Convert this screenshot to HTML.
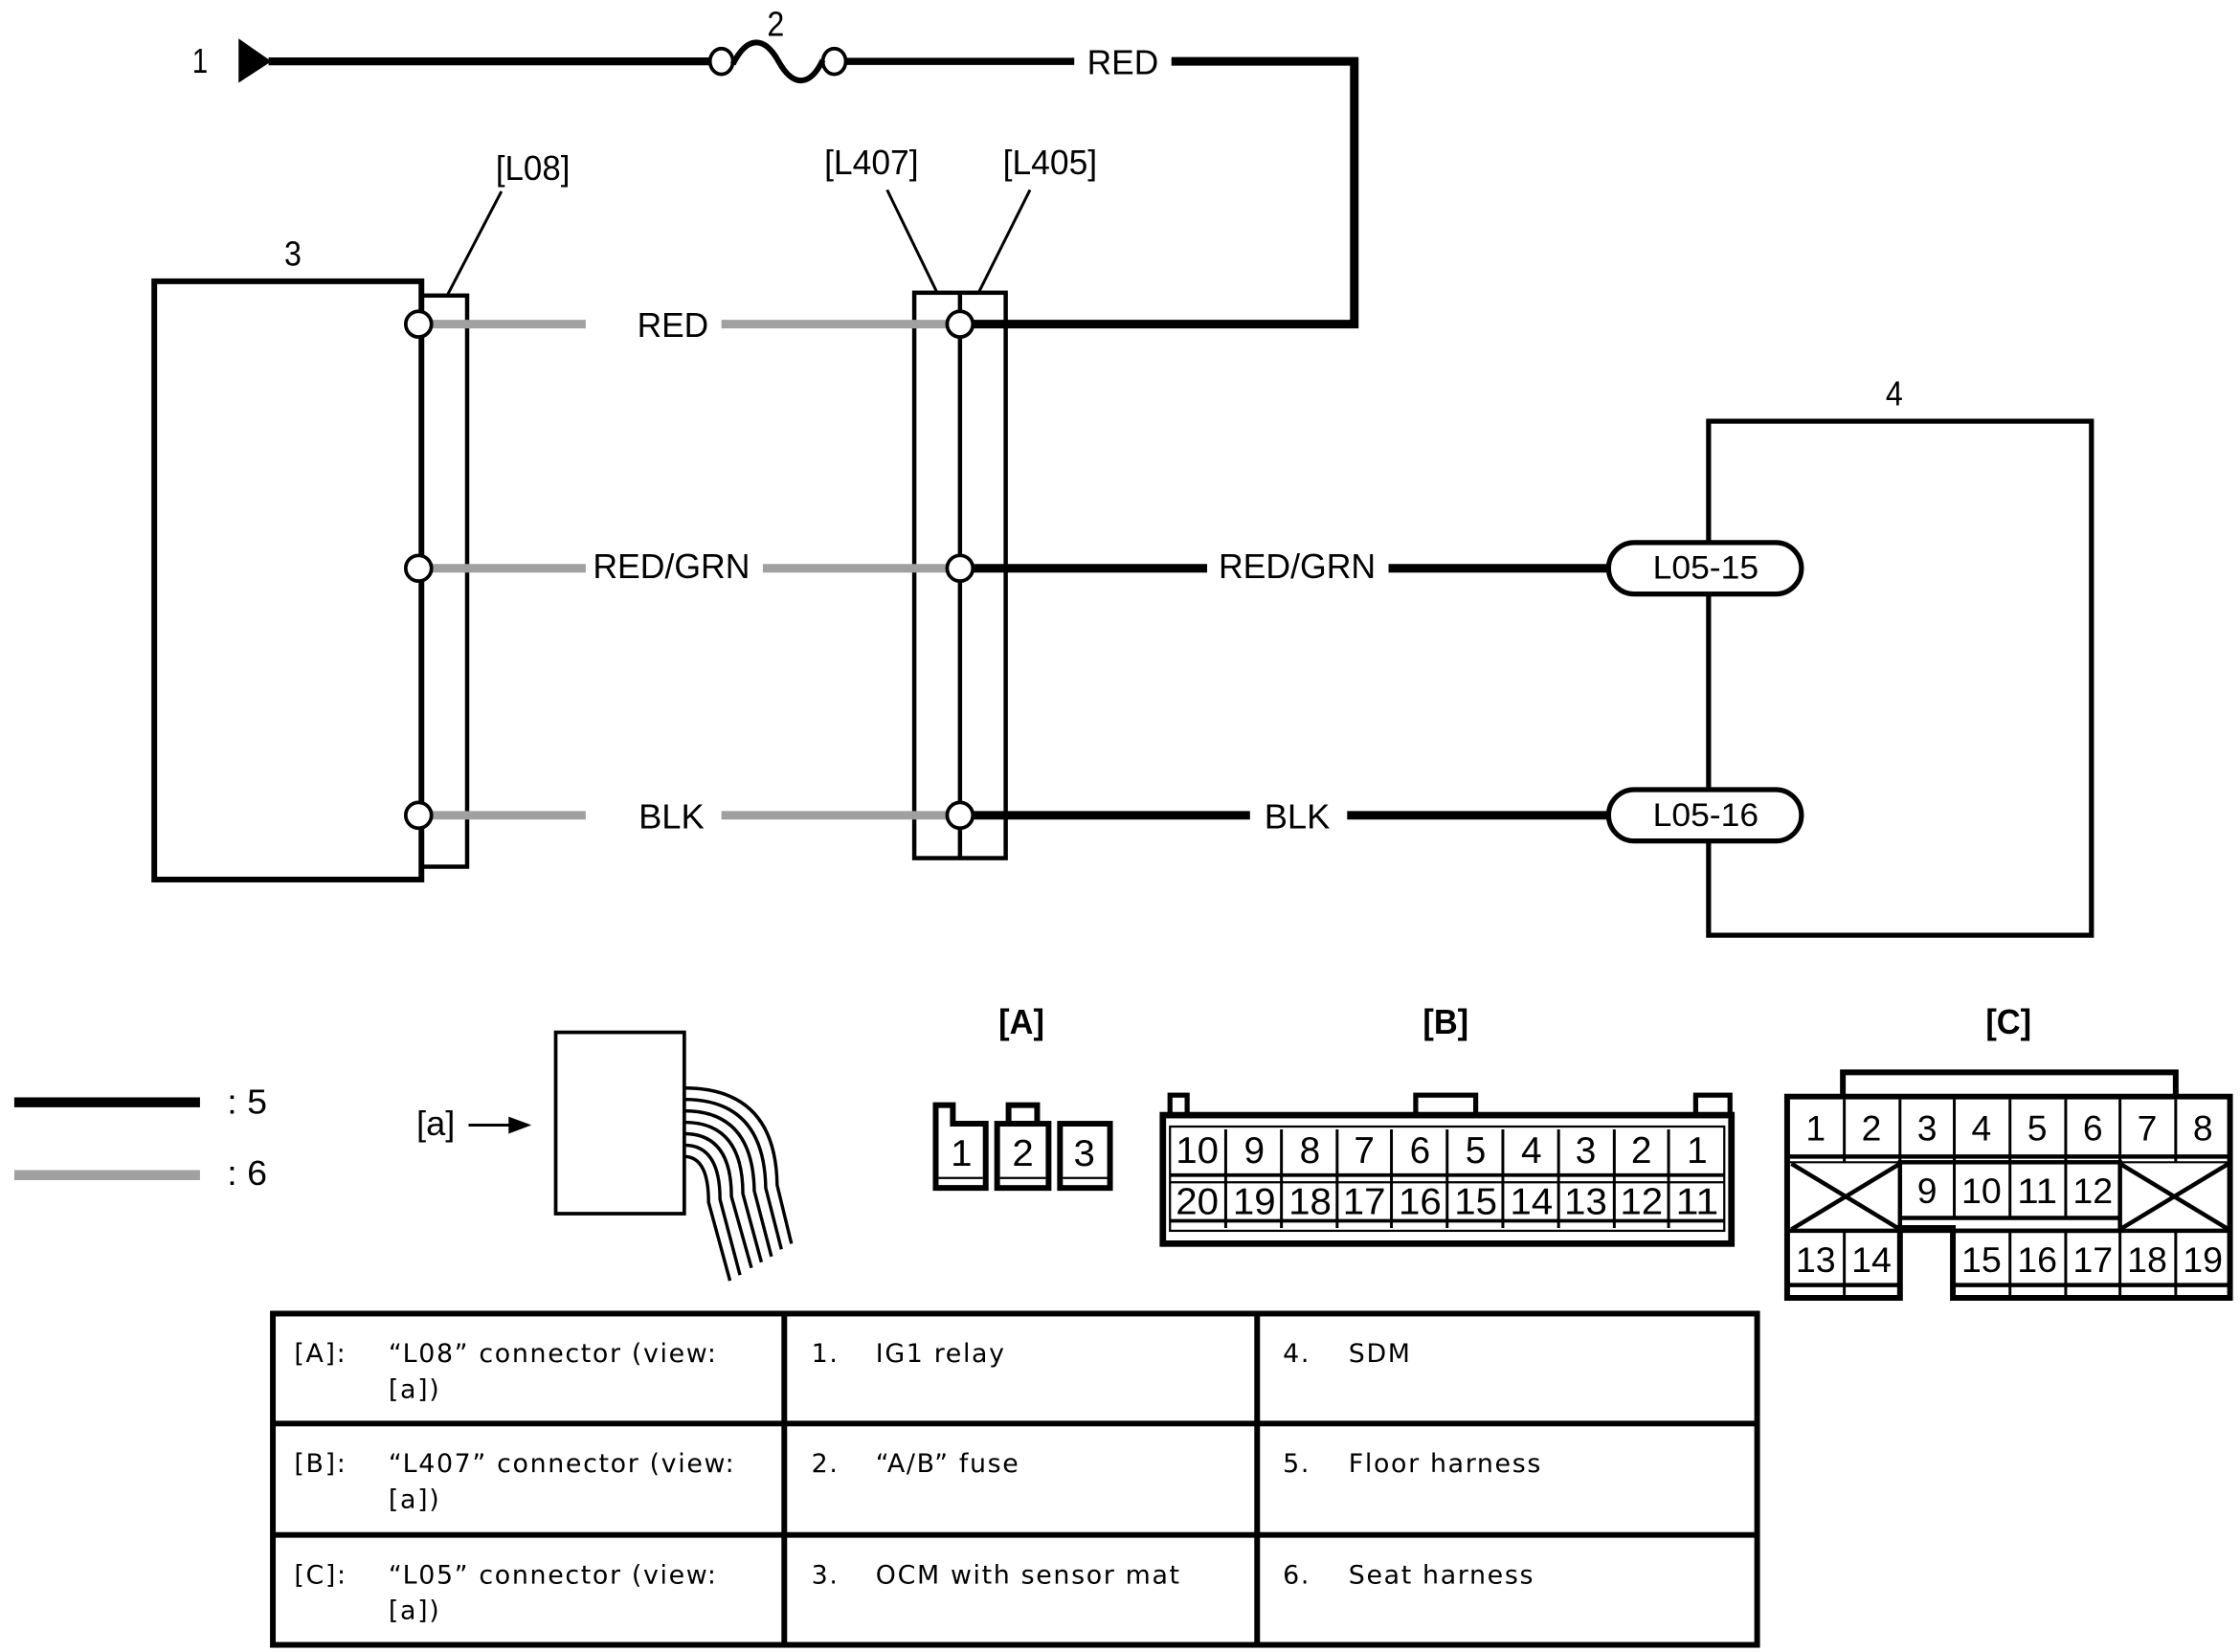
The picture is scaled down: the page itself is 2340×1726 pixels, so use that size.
<!DOCTYPE html>
<html><head><meta charset="utf-8"><style>html,body{margin:0;padding:0;background:#fff}svg{display:block}</style></head>
<body>
<svg width="2340" height="1726" viewBox="0 0 1568 1157" preserveAspectRatio="none" xmlns="http://www.w3.org/2000/svg" font-family="'Liberation Sans', sans-serif">
<rect width="1568" height="1157" fill="#fff"/>
<g font-size="24" text-anchor="middle" dominant-baseline="central" fill="#000">
<polygon points="167,27 190,43 167,58" fill="#000"/>
<text x="140" y="43" textLength="11" lengthAdjust="spacingAndGlyphs">1</text>
<text x="543" y="17" textLength="12" lengthAdjust="spacingAndGlyphs">2</text>
<line x1="188" y1="43" x2="497" y2="43" stroke="#000" stroke-width="5.5"/>
<ellipse cx="505" cy="43" rx="8" ry="9" fill="#fff" stroke="#000" stroke-width="2.5"/>
<ellipse cx="584" cy="43" rx="8" ry="9" fill="#fff" stroke="#000" stroke-width="2.5"/>
<path d="M513,45 C523,25 535,25 545,43 C555,61 567,61 576,42" fill="none" stroke="#000" stroke-width="4"/>
<line x1="592" y1="43" x2="752" y2="43" stroke="#000" stroke-width="5"/>
<text x="786" y="44" textLength="50" lengthAdjust="spacingAndGlyphs">RED</text>
<polyline points="820,43 948,43 948,227 680,227" fill="none" stroke="#000" stroke-width="6"/>

<text x="205" y="178" textLength="12" lengthAdjust="spacingAndGlyphs">3</text>
<rect x="108" y="197" width="187" height="419" fill="none" stroke="#000" stroke-width="4"/>
<rect x="295" y="207" width="32" height="400" fill="none" stroke="#000" stroke-width="3"/>
<text x="373" y="118" textLength="52" lengthAdjust="spacingAndGlyphs">[L08]</text>
<line x1="351" y1="134" x2="313" y2="207" stroke="#000" stroke-width="2"/>
<text x="610" y="114" textLength="66" lengthAdjust="spacingAndGlyphs">[L407]</text>
<text x="735" y="114" textLength="66" lengthAdjust="spacingAndGlyphs">[L405]</text>
<line x1="621" y1="133" x2="656" y2="205" stroke="#000" stroke-width="2"/>
<line x1="721" y1="133" x2="685" y2="205" stroke="#000" stroke-width="2"/>
<rect x="640" y="205" width="64" height="396" fill="none" stroke="#000" stroke-width="3"/>
<line x1="672" y1="205" x2="672" y2="601" stroke="#000" stroke-width="3"/>

<g stroke="#a0a0a0" stroke-width="6">
<line x1="300" y1="227" x2="410" y2="227"/><line x1="505" y1="227" x2="665" y2="227"/>
<line x1="300" y1="398" x2="410" y2="398"/><line x1="534" y1="398" x2="665" y2="398"/>
<line x1="300" y1="571" x2="410" y2="571"/><line x1="505" y1="571" x2="665" y2="571"/>
</g>
<text x="471" y="228" textLength="50" lengthAdjust="spacingAndGlyphs">RED</text>
<text x="470" y="397" textLength="110" lengthAdjust="spacingAndGlyphs">RED/GRN</text>
<text x="470" y="572" textLength="46" lengthAdjust="spacingAndGlyphs">BLK</text>
<g stroke="#000" stroke-width="6">
<line x1="680" y1="398" x2="845" y2="398"/><line x1="972" y1="398" x2="1127" y2="398"/>
<line x1="680" y1="571" x2="875" y2="571"/><line x1="943" y1="571" x2="1127" y2="571"/>
</g>
<text x="908" y="397" textLength="110" lengthAdjust="spacingAndGlyphs">RED/GRN</text>
<text x="908" y="572" textLength="46" lengthAdjust="spacingAndGlyphs">BLK</text>
<g fill="#fff" stroke="#000" stroke-width="2.5">
<circle cx="293" cy="227" r="9"/><circle cx="293" cy="398" r="9"/><circle cx="293" cy="571" r="9"/>
<circle cx="672" cy="227" r="9"/><circle cx="672" cy="398" r="9"/><circle cx="672" cy="571" r="9"/>
</g>

<text x="1326" y="276" textLength="12" lengthAdjust="spacingAndGlyphs">4</text>
<rect x="1196" y="295" width="268" height="360" fill="none" stroke="#000" stroke-width="3.5"/>
<rect x="1126" y="380" width="135" height="36" rx="18" fill="#fff" stroke="#000" stroke-width="3.5"/>
<rect x="1126" y="553" width="135" height="36" rx="18" fill="#fff" stroke="#000" stroke-width="3.5"/>
<text x="1194" y="398" font-size="23" textLength="74" lengthAdjust="spacingAndGlyphs">L05-15</text>
<text x="1194" y="571" font-size="23" textLength="74" lengthAdjust="spacingAndGlyphs">L05-16</text>

<line x1="10" y1="772" x2="140" y2="772" stroke="#000" stroke-width="7"/>
<line x1="10" y1="823" x2="140" y2="823" stroke="#a0a0a0" stroke-width="7"/>
<text x="173" y="772" textLength="28" lengthAdjust="spacingAndGlyphs">: 5</text>
<text x="173" y="822" textLength="28" lengthAdjust="spacingAndGlyphs">: 6</text>

<text x="305" y="787" textLength="27" lengthAdjust="spacingAndGlyphs">[a]</text>
<line x1="328" y1="788" x2="358" y2="788" stroke="#000" stroke-width="2"/>
<polygon points="356,782 372,788 356,794" fill="#000"/>
<rect x="389" y="723" width="90" height="127" fill="none" stroke="#000" stroke-width="2.5"/>
<g fill="none" stroke="#000" stroke-width="2.3">
<path d="M479,762 Q543,762 544,830 L554,871"/>
<path d="M479,770 Q535,770 536,832 L547,875"/>
<path d="M479,778 Q527,778 528,834 L540,880"/>
<path d="M479,786 Q520,786 520,836 L533,884"/>
<path d="M479,794 Q512,794 512,838 L526,888"/>
<path d="M479,802 Q504,802 504,840 L518,893"/>
<path d="M479,810 Q496,810 496,842 L511,897"/>
</g>

<text x="715" y="716" textLength="32" lengthAdjust="spacingAndGlyphs" font-weight="bold">[A]</text>
<g fill="none" stroke="#000" stroke-width="4">
<path d="M655,832 V774 H667 V787 H690 V832 Z"/>
<rect x="698" y="787" width="36" height="45"/>
<rect x="706" y="774" width="20" height="13"/>
<rect x="742" y="787" width="35" height="45"/>
</g>
<g stroke="#000" stroke-width="1.5"><line x1="657" y1="825" x2="688" y2="825"/><line x1="700" y1="825" x2="732" y2="825"/><line x1="744" y1="825" x2="775" y2="825"/></g>
<text x="673" y="808" font-size="26" textLength="15" lengthAdjust="spacingAndGlyphs">1</text>
<text x="716" y="808" font-size="26" textLength="15" lengthAdjust="spacingAndGlyphs">2</text>
<text x="759" y="808" font-size="26" textLength="15" lengthAdjust="spacingAndGlyphs">3</text>

<text x="1012" y="716" textLength="32" lengthAdjust="spacingAndGlyphs" font-weight="bold">[B]</text>
<g fill="none" stroke="#000">
<rect x="814" y="781" width="398" height="90" stroke-width="4.5"/>
<rect x="819" y="789" width="388" height="73" stroke-width="1.5"/>
<rect x="819" y="767" width="12" height="14" stroke-width="3.5"/>
<rect x="991" y="767" width="42" height="14" stroke-width="3.5"/>
<rect x="1187" y="767" width="24" height="14" stroke-width="3.5"/>
<line x1="819" y1="823" x2="1207" y2="823" stroke-width="2.5"/>
<line x1="819" y1="828" x2="1207" y2="828" stroke-width="1.5"/>
<line x1="819" y1="855" x2="1207" y2="855" stroke-width="2.5"/>
</g>
<g stroke="#000" stroke-width="2">
<line x1="858" y1="791" x2="858" y2="860"/><line x1="897" y1="791" x2="897" y2="860"/><line x1="936" y1="791" x2="936" y2="860"/><line x1="974" y1="791" x2="974" y2="860"/><line x1="1013" y1="791" x2="1013" y2="860"/><line x1="1052" y1="791" x2="1052" y2="860"/><line x1="1091" y1="791" x2="1091" y2="860"/><line x1="1130" y1="791" x2="1130" y2="860"/><line x1="1168" y1="791" x2="1168" y2="860"/>
</g>
<g font-size="26">
<text x="838" y="806" textLength="30" lengthAdjust="spacingAndGlyphs">10</text><text x="878" y="806">9</text><text x="917" y="806">8</text><text x="955" y="806">7</text><text x="994" y="806">6</text><text x="1033" y="806">5</text><text x="1072" y="806">4</text><text x="1110" y="806">3</text><text x="1149" y="806">2</text><text x="1188" y="806">1</text>
<text x="838" y="842" textLength="30" lengthAdjust="spacingAndGlyphs">20</text><text x="878" y="842" textLength="30" lengthAdjust="spacingAndGlyphs">19</text><text x="917" y="842" textLength="30" lengthAdjust="spacingAndGlyphs">18</text><text x="955" y="842" textLength="30" lengthAdjust="spacingAndGlyphs">17</text><text x="994" y="842" textLength="30" lengthAdjust="spacingAndGlyphs">16</text><text x="1033" y="842" textLength="30" lengthAdjust="spacingAndGlyphs">15</text><text x="1072" y="842" textLength="30" lengthAdjust="spacingAndGlyphs">14</text><text x="1110" y="842" textLength="30" lengthAdjust="spacingAndGlyphs">13</text><text x="1149" y="842" textLength="30" lengthAdjust="spacingAndGlyphs">12</text><text x="1188" y="842" textLength="30" lengthAdjust="spacingAndGlyphs">11</text>
</g>

<text x="1406" y="716" textLength="32" lengthAdjust="spacingAndGlyphs" font-weight="bold">[C]</text>
<g fill="none" stroke="#000">
<path d="M1251,768 H1561 V909 H1367 V860 H1330 V909 H1251 Z" stroke-width="4"/>
<polyline points="1290,768 1290,751 1523,751 1523,768" stroke-width="4"/>
<line x1="1252" y1="810" x2="1561" y2="810" stroke-width="3"/>
<line x1="1252" y1="814" x2="1561" y2="814" stroke-width="1.5"/>
<line x1="1330" y1="853" x2="1484" y2="853" stroke-width="3"/>
<line x1="1252" y1="862" x2="1330" y2="862" stroke-width="3"/>
<line x1="1367" y1="862" x2="1561" y2="862" stroke-width="3"/>
<line x1="1252" y1="900" x2="1330" y2="900" stroke-width="3"/>
<line x1="1367" y1="900" x2="1561" y2="900" stroke-width="3"/>
<line x1="1254" y1="815" x2="1330" y2="861" stroke-width="3"/><line x1="1330" y1="815" x2="1254" y2="861" stroke-width="3"/>
<line x1="1484" y1="815" x2="1560" y2="861" stroke-width="3"/><line x1="1560" y1="815" x2="1484" y2="861" stroke-width="3"/>
<rect x="1330" y="814" width="154" height="48" stroke-width="3"/>
</g>
<g stroke="#000" stroke-width="2">
<line x1="1291" y1="770" x2="1291" y2="814"/><line x1="1330" y1="770" x2="1330" y2="814"/><line x1="1368" y1="770" x2="1368" y2="814"/><line x1="1407" y1="770" x2="1407" y2="814"/><line x1="1446" y1="770" x2="1446" y2="814"/><line x1="1484" y1="770" x2="1484" y2="814"/><line x1="1523" y1="770" x2="1523" y2="814"/>
<line x1="1368" y1="814" x2="1368" y2="853"/><line x1="1407" y1="814" x2="1407" y2="853"/><line x1="1446" y1="814" x2="1446" y2="853"/>
<line x1="1291" y1="862" x2="1291" y2="909"/><line x1="1407" y1="862" x2="1407" y2="909"/><line x1="1446" y1="862" x2="1446" y2="909"/><line x1="1484" y1="862" x2="1484" y2="909"/><line x1="1523" y1="862" x2="1523" y2="909"/>
</g>
<g font-size="25">
<text x="1271" y="790">1</text><text x="1310" y="790">2</text><text x="1349" y="790">3</text><text x="1387" y="790">4</text><text x="1426" y="790">5</text><text x="1465" y="790">6</text><text x="1503" y="790">7</text><text x="1542" y="790">8</text>
<text x="1349" y="834">9</text><text x="1387" y="834" textLength="28" lengthAdjust="spacingAndGlyphs">10</text><text x="1426" y="834" textLength="28" lengthAdjust="spacingAndGlyphs">11</text><text x="1465" y="834" textLength="28" lengthAdjust="spacingAndGlyphs">12</text>
<text x="1271" y="882" textLength="28" lengthAdjust="spacingAndGlyphs">13</text><text x="1310" y="882" textLength="28" lengthAdjust="spacingAndGlyphs">14</text><text x="1387" y="882" textLength="28" lengthAdjust="spacingAndGlyphs">15</text><text x="1426" y="882" textLength="28" lengthAdjust="spacingAndGlyphs">16</text><text x="1465" y="882" textLength="28" lengthAdjust="spacingAndGlyphs">17</text><text x="1503" y="882" textLength="28" lengthAdjust="spacingAndGlyphs">18</text><text x="1542" y="882" textLength="28" lengthAdjust="spacingAndGlyphs">19</text>
</g>
</g>

<g fill="none" stroke="#000" stroke-width="4">
<rect x="191" y="920" width="1039" height="232"/>
<line x1="549" y1="920" x2="549" y2="1152"/><line x1="880" y1="920" x2="880" y2="1152"/>
<line x1="191" y1="997" x2="1230" y2="997"/><line x1="191" y1="1075" x2="1230" y2="1075"/>
</g>
<g font-family="'DejaVu Sans', sans-serif" font-size="18" fill="#000" letter-spacing="1.1">
<text x="206" y="954">[A]:</text><text x="272" y="954">“L08” connector (view:</text><text x="272" y="979">[a])</text>
<text x="206" y="1031">[B]:</text><text x="272" y="1031">“L407” connector (view:</text><text x="272" y="1056">[a])</text>
<text x="206" y="1109">[C]:</text><text x="272" y="1109">“L05” connector (view:</text><text x="272" y="1134">[a])</text>
<text x="568" y="954">1.</text><text x="613" y="954">IG1 relay</text>
<text x="568" y="1031">2.</text><text x="613" y="1031">“A/B” fuse</text>
<text x="568" y="1109">3.</text><text x="613" y="1109">OCM with sensor mat</text>
<text x="898" y="954">4.</text><text x="944" y="954">SDM</text>
<text x="898" y="1031">5.</text><text x="944" y="1031">Floor harness</text>
<text x="898" y="1109">6.</text><text x="944" y="1109">Seat harness</text>
</g>
</svg>
</body></html>
